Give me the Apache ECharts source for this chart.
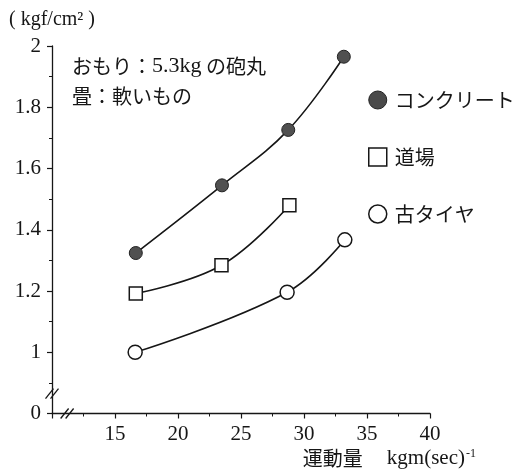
<!DOCTYPE html>
<html>
<head>
<meta charset="utf-8">
<script src="https://cdn.jsdelivr.net/npm/echarts@6/dist/echarts.min.js"></script>
<style>
html,body{margin:0;padding:0;background:#fff;}
#chart{width:519px;height:469px;}
</style>
</head>
<body>
<div id="chart"></div>
<script>
// Data
const seriesNames = ['コンクリート', '道場', '古タイヤ'];
const concrete = [[16.65, 1.324], [23.49, 1.545], [28.75, 1.726], [33.16, 1.965]];
const dojo = [[16.65, 1.192], [23.45, 1.284], [28.84, 1.480]];
const oldTire = [[16.6, 1.0], [28.66, 1.196], [33.24, 1.367]];
const xTicks = [15, 20, 25, 30, 35, 40];
const yTicks = ['0', '1', '1.2', '1.4', '1.6', '1.8', '2'];
const noteLine1 = ['おもり：', '5.3kg', ' の砲丸'];
const noteLine2 = '畳：軟いもの';
const yUnit = '( kgf/cm² )';
const xName = ['運動量', 'kgm(sec)', '-1'];

const SERIF = '"Liberation Serif", "Noto Sans CJK JP", serif';
const JP = '"Noto Sans CJK JP", sans-serif';
const INK = '#161616';

const chart = echarts.init(document.getElementById('chart'), null, {renderer: 'canvas'});

function yLabel(v) {
  // the lowest gridline stands for 0 (broken axis)
  if (Math.abs(v - 0.8) < 1e-6) return yTicks[0];
  const s = String(+v.toFixed(1));
  return yTicks.indexOf(s) >= 0 ? s : '';
}
function xLabel(v) {
  return xTicks.indexOf(Math.round(v)) >= 0 ? String(Math.round(v)) : '';
}

const lineStyle = {color: INK, width: 1.6};
const SMOOTH = 0.4;

const option = {
  backgroundColor: '#fff',
  animation: false,
  grid: {left: 52, right: 89, top: 46, bottom: 54, containLabel: false},
  xAxis: {
    type: 'value', min: 10, max: 40, interval: 5,
    name: '{a|' + xName[0] + '}{b|' + xName[1] + '}{c|' + xName[2] + '}',
    nameLocation: 'end', nameGap: 46,
    nameTextStyle: {
      align: 'right', verticalAlign: 'top', padding: [34, 0, 0, 0],
      rich: {
        a: {fontFamily: JP, fontSize: 20, color: INK, padding: [0, 24, 0, 0]},
        b: {fontFamily: SERIF, fontSize: 21, color: INK},
        c: {fontFamily: SERIF, fontSize: 12, color: INK, verticalAlign: 'top', padding: [0, 0, 10, 1]}
      }
    },
    axisLine: {show: true, lineStyle: {color: INK, width: 1.3}},
    axisTick: {show: true, length: 5, inside: false, lineStyle: {color: INK, width: 1.2}},
    minorTick: {show: true, splitNumber: 2, length: 3, lineStyle: {color: INK, width: 1}},
    splitLine: {show: false},
    axisLabel: {formatter: xLabel, fontFamily: SERIF, fontSize: 21, color: INK, margin: 10, showMinLabel: true}
  },
  yAxis: {
    type: 'value', min: 0.8, max: 2, interval: 0.2,
    name: yUnit, nameLocation: 'end', nameGap: 16,
    nameTextStyle: {fontFamily: SERIF, fontSize: 20, color: INK, align: 'center'},
    axisLine: {show: true, lineStyle: {color: INK, width: 1.3}},
    axisTick: {show: true, length: 5, lineStyle: {color: INK, width: 1.2}},
    minorTick: {show: true, splitNumber: 2, length: 3, lineStyle: {color: INK, width: 1}},
    splitLine: {show: false},
    axisLabel: {formatter: yLabel, fontFamily: SERIF, fontSize: 21, color: INK, margin: 11}
  },
  legend: {
    orient: 'vertical', left: 368, top: 90, padding: 0,
    itemWidth: 18, itemHeight: 18, itemGap: 37,
    textStyle: {fontFamily: JP, fontSize: 20, color: INK, padding: [0, 0, 0, 3]},
    data: [
      {name: seriesNames[0], icon: 'circle', itemStyle: {color: '#4a4a4a', borderColor: '#222', borderWidth: 1}},
      {name: seriesNames[1], icon: 'rect', itemStyle: {color: '#fff', borderColor: INK, borderWidth: 1.5}},
      {name: seriesNames[2], icon: 'circle', itemStyle: {color: '#fff', borderColor: INK, borderWidth: 1.5}}
    ]
  },
  series: [
    {
      name: seriesNames[0], type: 'line', data: concrete, smooth: SMOOTH,
      symbol: 'circle', symbolSize: 13, lineStyle: lineStyle,
      itemStyle: {color: '#505050', borderColor: '#222', borderWidth: 1}, z: 3
    },
    {
      name: seriesNames[1], type: 'line', data: dojo, smooth: SMOOTH,
      symbol: 'rect', symbolSize: 13, lineStyle: lineStyle,
      itemStyle: {color: '#fff', borderColor: INK, borderWidth: 1.5}, z: 3
    },
    {
      name: seriesNames[2], type: 'line', data: oldTire, smooth: SMOOTH,
      symbol: 'circle', symbolSize: 14, lineStyle: lineStyle,
      itemStyle: {color: '#fff', borderColor: INK, borderWidth: 1.5}, z: 3
    }
  ],
  graphic: [
    {
      type: 'text', left: 72, top: 55,
      style: {
        text: '{j|' + noteLine1[0] + '}{l|' + noteLine1[1] + '}{j|' + noteLine1[2] + '}\n{j|' + noteLine2 + '}',
        fill: INK,
        rich: {
          j: {fontFamily: JP, fontSize: 20, lineHeight: 30, color: INK},
          l: {fontFamily: SERIF, fontSize: 22, lineHeight: 30, color: INK}
        }
      }
    }
  ]
};
chart.setOption(option);

// axis-break marks "//" placed via the axes' own scales
const yb = chart.convertToPixel({gridIndex: 0}, [10, 0.865]);
const xb = chart.convertToPixel({gridIndex: 0}, [11.2, 0.8]);
function breakMark(p) {
  const els = [];
  [-2.5, 2.5].forEach(function (d) {
    els.push({
      type: 'line',
      shape: {x1: p[0] + d - 4, y1: p[1] + 5, x2: p[0] + d + 4, y2: p[1] - 5},
      style: {stroke: INK, lineWidth: 1.3}
    });
  });
  return els;
}
chart.setOption({
  graphic: option.graphic.concat([
    {type: 'rect', shape: {x: yb[0] - 3, y: yb[1] - 2, width: 6, height: 4}, style: {fill: '#fff'}},
    {type: 'rect', shape: {x: xb[0] - 2, y: xb[1] - 3, width: 4, height: 6}, style: {fill: '#fff'}}
  ]).concat(breakMark(yb)).concat(breakMark(xb))
});
</script>
</body>
</html>
